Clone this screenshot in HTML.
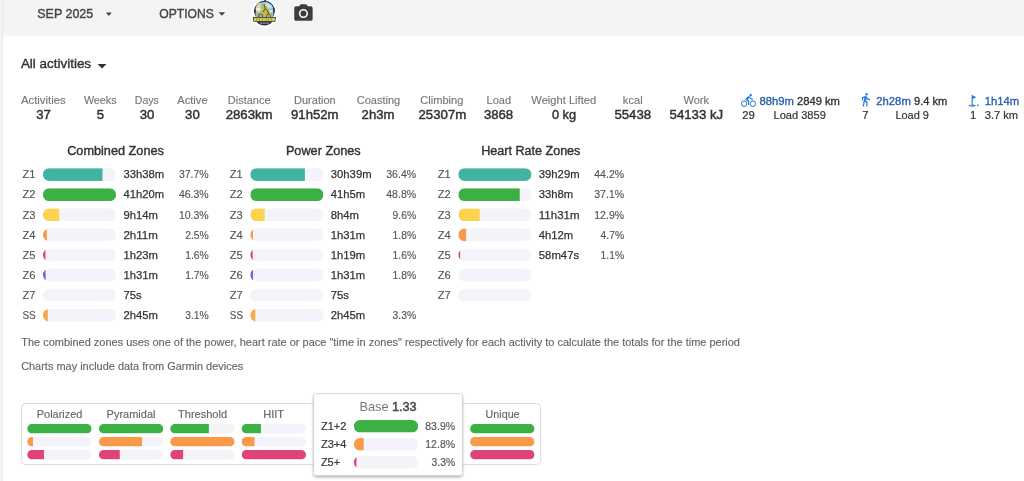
<!DOCTYPE html>
<html><head><meta charset="utf-8"><title>Activity totals</title>
<style>
html,body{margin:0;padding:0;background:#ffffff;}
body{width:1024px;height:481px;overflow:hidden;font-family:"Liberation Sans", sans-serif;}
svg{display:block;font-family:"Liberation Sans", sans-serif;will-change:transform;}
</style></head>
<body>
<svg width="1024" height="481" viewBox="0 0 1024 481">
<rect x="0.00" y="0.00" width="3.00" height="481.00" rx="0" fill="#f3f3fa" />
<rect x="2.00" y="0.00" width="1.00" height="481.00" rx="0" fill="#e9e9ef" />
<rect x="3.00" y="0.00" width="1021.00" height="35.50" rx="0" fill="#f4f4f4" />
<text x="65.25" y="18.30" font-size="13.05" fill="#454545" text-anchor="middle" textLength="55.95" lengthAdjust="spacingAndGlyphs" stroke="#454545" stroke-width="0.4">SEP 2025</text>
<polygon points="105.8,12.6 111.8,12.6 108.8,15.9" fill="#444"/>
<text x="186.55" y="18.20" font-size="13.05" fill="#454545" text-anchor="middle" textLength="54.58" lengthAdjust="spacingAndGlyphs" stroke="#454545" stroke-width="0.4">OPTIONS</text>
<polygon points="218.6,12.3 225.2,12.3 221.9,15.7" fill="#444"/>
<g>
<circle cx="264.8" cy="13.4" r="14.6" fill="#fbfbfb"/>
<circle cx="264.5" cy="11.1" r="10.3" fill="#1f2b47"/>
<circle cx="264.5" cy="11.1" r="9.3" fill="#8bc8e8"/>
<path d="M265 2.2 q5 0.6 7.6 5 l-3.5 1.8 l-3 -3z" fill="#bfe3f5"/>
<path d="M256.2 6 q1.5 -3 4 -3.4 l0.8 9 l-4.6 1z" fill="#e2d78c"/>
<ellipse cx="258" cy="9.2" rx="2.4" ry="1.1" fill="#eef4f6"/>
<ellipse cx="270.6" cy="11.4" rx="2.3" ry="1.1" fill="#eef4f6"/>
<path d="M255.6 13.2 q4 -1.5 9 -0.5 q5 -1 8.8 0.5 v4.2 h-17.8z" fill="#9bb89a"/>
<path d="M262.8 3.4 l2.2 -0.4 l1.4 3.8 l2.4 2 l1.6 4 l-1 4.2 l-2 -3 l-2.4 3 l-1.6 -3.6 l-2.6 2.2 l-0.4 -3.4 l2 -2.4 l-0.6 -3.6z" fill="#cbb641"/>
<path d="M264 4.6 l1.2 4 l-2.2 3.4 M265.2 8.6 l2.8 2.6 l0.2 3.6 M260.6 14 a2 2 0 1 0 0.1 0 M268.5 14.2 a2 2 0 1 0 0.1 0" stroke="#3a4134" stroke-width="0.8" fill="none"/>
<rect x="264.4" y="0" width="1.6" height="1.8" fill="#2b344c"/>
<rect x="254.3" y="9.2" width="1.4" height="3.6" fill="#1f2b47"/>
<rect x="273.2" y="7.8" width="1.4" height="4.4" fill="#1f2b47"/>
<path d="M252.9 17.1 h23 l-0.6 4.7 h-21.8z" fill="#26304a"/>
<path d="M253.7 17.8 h21.4 l-0.4 3.3 h-20.6z" fill="#dccb3c"/>
<path d="M256.9 18.2 v2.6 M259.6 18.2 v2.6 M262.3 18.2 v2.6 M266 18.2 v2.6 M268.6 18.2 v2.6 M271.3 18.2 v2.6" stroke="#6d6a34" stroke-width="0.6"/>
<path d="M256.7 21.6 h15.4 q-1.6 3.8 -7.7 3.8 q-6.1 0 -7.7 -3.8z" fill="#1f2b47"/>
<rect x="259.8" y="22.6" width="9.4" height="1" fill="#9aa3b6"/>
</g>
<g transform="translate(292.4,2.46) scale(0.92)" fill="#3d3d3d"><circle cx="12" cy="12" r="3.2"/><path d="M9 2L7.17 4H4c-1.1 0-2 .9-2 2v12c0 1.1.9 2 2 2h16c1.1 0 2-.9 2-2V6c0-1.1-.9-2-2-2h-3.17L15 2H9zm3 15c-2.76 0-5-2.24-5-5s2.24-5 5-5 5 2.24 5 5-2.24 5-5 5z"/></g>
<text x="56.00" y="67.70" font-size="13.7" fill="#333333" text-anchor="middle" textLength="70.20" lengthAdjust="spacingAndGlyphs" stroke="#333333" stroke-width="0.4">All activities</text>
<polygon points="97.6,64.1 106.5,64.1 102.05,68.6" fill="#333"/>
<text x="43.33" y="104.00" font-size="11.2" fill="#777777" text-anchor="middle" textLength="44.86" lengthAdjust="spacingAndGlyphs" stroke="#777777" stroke-width="0.15">Activities</text>
<text x="43.50" y="119.25" font-size="13.05" fill="#333333" text-anchor="middle" textLength="14.66" lengthAdjust="spacingAndGlyphs" stroke="#333333" stroke-width="0.45">37</text>
<text x="100.25" y="104.00" font-size="11.2" fill="#777777" text-anchor="middle" textLength="32.70" lengthAdjust="spacingAndGlyphs" stroke="#777777" stroke-width="0.15">Weeks</text>
<text x="100.45" y="119.25" font-size="13.05" fill="#333333" text-anchor="middle" textLength="7.33" lengthAdjust="spacingAndGlyphs" stroke="#333333" stroke-width="0.45">5</text>
<text x="146.80" y="104.00" font-size="11.2" fill="#777777" text-anchor="middle" textLength="24.12" lengthAdjust="spacingAndGlyphs" stroke="#777777" stroke-width="0.15">Days</text>
<text x="147.00" y="119.25" font-size="13.05" fill="#333333" text-anchor="middle" textLength="14.66" lengthAdjust="spacingAndGlyphs" stroke="#333333" stroke-width="0.45">30</text>
<text x="192.45" y="104.00" font-size="11.2" fill="#777777" text-anchor="middle" textLength="30.34" lengthAdjust="spacingAndGlyphs" stroke="#777777" stroke-width="0.15">Active</text>
<text x="192.45" y="119.25" font-size="13.05" fill="#333333" text-anchor="middle" textLength="14.66" lengthAdjust="spacingAndGlyphs" stroke="#333333" stroke-width="0.45">30</text>
<text x="249.15" y="104.00" font-size="11.2" fill="#777777" text-anchor="middle" textLength="42.71" lengthAdjust="spacingAndGlyphs" stroke="#777777" stroke-width="0.15">Distance</text>
<text x="249.15" y="119.25" font-size="13.05" fill="#333333" text-anchor="middle" textLength="46.94" lengthAdjust="spacingAndGlyphs" stroke="#333333" stroke-width="0.45">2863km</text>
<text x="314.85" y="104.00" font-size="11.2" fill="#777777" text-anchor="middle" textLength="41.54" lengthAdjust="spacingAndGlyphs" stroke="#777777" stroke-width="0.15">Duration</text>
<text x="314.80" y="119.25" font-size="13.05" fill="#333333" text-anchor="middle" textLength="47.50" lengthAdjust="spacingAndGlyphs" stroke="#333333" stroke-width="0.45">91h52m</text>
<text x="378.50" y="104.00" font-size="11.2" fill="#777777" text-anchor="middle" textLength="43.51" lengthAdjust="spacingAndGlyphs" stroke="#777777" stroke-width="0.15">Coasting</text>
<text x="378.00" y="119.25" font-size="13.05" fill="#333333" text-anchor="middle" textLength="32.84" lengthAdjust="spacingAndGlyphs" stroke="#333333" stroke-width="0.45">2h3m</text>
<text x="441.85" y="104.00" font-size="11.2" fill="#777777" text-anchor="middle" textLength="43.14" lengthAdjust="spacingAndGlyphs" stroke="#777777" stroke-width="0.15">Climbing</text>
<text x="442.40" y="119.25" font-size="13.05" fill="#333333" text-anchor="middle" textLength="47.80" lengthAdjust="spacingAndGlyphs" stroke="#333333" stroke-width="0.45">25307m</text>
<text x="498.80" y="104.00" font-size="11.2" fill="#777777" text-anchor="middle" textLength="24.38" lengthAdjust="spacingAndGlyphs" stroke="#777777" stroke-width="0.15">Load</text>
<text x="498.55" y="119.25" font-size="13.05" fill="#333333" text-anchor="middle" textLength="29.31" lengthAdjust="spacingAndGlyphs" stroke="#333333" stroke-width="0.45">3868</text>
<text x="563.75" y="104.00" font-size="11.2" fill="#777777" text-anchor="middle" textLength="64.87" lengthAdjust="spacingAndGlyphs" stroke="#777777" stroke-width="0.15">Weight Lifted</text>
<text x="564.00" y="119.25" font-size="13.05" fill="#333333" text-anchor="middle" textLength="24.16" lengthAdjust="spacingAndGlyphs" stroke="#333333" stroke-width="0.45">0 kg</text>
<text x="632.80" y="104.00" font-size="11.2" fill="#777777" text-anchor="middle" textLength="19.88" lengthAdjust="spacingAndGlyphs" stroke="#777777" stroke-width="0.15">kcal</text>
<text x="632.80" y="119.25" font-size="13.05" fill="#333333" text-anchor="middle" textLength="36.64" lengthAdjust="spacingAndGlyphs" stroke="#333333" stroke-width="0.45">55438</text>
<text x="696.20" y="104.00" font-size="11.2" fill="#777777" text-anchor="middle" textLength="25.43" lengthAdjust="spacingAndGlyphs" stroke="#777777" stroke-width="0.15">Work</text>
<text x="696.35" y="119.25" font-size="13.05" fill="#333333" text-anchor="middle" textLength="53.54" lengthAdjust="spacingAndGlyphs" stroke="#333333" stroke-width="0.45">54133 kJ</text>
<g transform="translate(741,93.06) scale(0.625)" fill="#2a7fe0"><path d="M15.5 5.5c1.1 0 2-.9 2-2s-.9-2-2-2-2 .9-2 2 .9 2 2 2zM5 12c-2.8 0-5 2.2-5 5s2.2 5 5 5 5-2.2 5-5-2.2-5-5-5zm0 8.5c-1.9 0-3.5-1.6-3.5-3.5s1.6-3.5 3.5-3.5 3.5 1.6 3.5 3.5-1.6 3.5-3.5 3.5zm5.8-10l2.4-2.4.8.8c1.3 1.3 3 2.1 5.1 2.1V9c-1.5 0-2.7-.6-3.6-1.5l-1.9-1.9c-.5-.4-1-.6-1.6-.6s-1.1.2-1.4.6L7.8 8.4c-.4.4-.6.9-.6 1.4 0 .6.2 1.1.6 1.4L11 14v5h2v-6.2l-2.2-2.3zM19 12c-2.8 0-5 2.2-5 5s2.2 5 5 5 5-2.2 5-5-2.2-5-5-5zm0 8.5c-1.9 0-3.5-1.6-3.5-3.5s1.6-3.5 3.5-3.5 3.5 1.6 3.5 3.5-1.6 3.5-3.5 3.5z"/></g>
<text x="776.65" y="104.90" font-size="11.2" fill="#2d62aa" text-anchor="middle" textLength="34.47" lengthAdjust="spacingAndGlyphs" stroke="#2d62aa" stroke-width="0.35">88h9m</text>
<text x="818.45" y="104.90" font-size="11.2" fill="#2e2e2e" text-anchor="middle" textLength="43.06" lengthAdjust="spacingAndGlyphs" stroke="#2e2e2e" stroke-width="0.3">2849 km</text>
<text x="748.50" y="119.30" font-size="11.2" fill="#333333" text-anchor="middle" textLength="12.58" lengthAdjust="spacingAndGlyphs" stroke="#333333" stroke-width="0.2">29</text>
<text x="799.65" y="119.30" font-size="11.2" fill="#333333" text-anchor="middle" textLength="52.31" lengthAdjust="spacingAndGlyphs" stroke="#333333" stroke-width="0.2">Load 3859</text>
<g transform="translate(858.15,92.16) scale(0.625)" fill="#2a7fe0"><path d="M13.5 5.5c1.1 0 2-.9 2-2s-.9-2-2-2-2 .9-2 2 .9 2 2 2zM9.8 8.9L7 23h2.1l1.8-8 2.1 2v6h2v-7.5l-2.1-2 .6-3C14.8 12 16.8 13 19 13v-2c-1.9 0-3.5-1-4.3-2.4l-1-1.6c-.4-.6-1-1-1.7-1-.3 0-.5.1-.8.1L6 8.3V13h2V9.6l1.8-.7"/></g>
<text x="893.55" y="104.90" font-size="11.2" fill="#2d62aa" text-anchor="middle" textLength="34.47" lengthAdjust="spacingAndGlyphs" stroke="#2d62aa" stroke-width="0.35">2h28m</text>
<text x="930.70" y="104.90" font-size="11.2" fill="#2e2e2e" text-anchor="middle" textLength="33.42" lengthAdjust="spacingAndGlyphs" stroke="#2e2e2e" stroke-width="0.3">9.4 km</text>
<text x="865.45" y="119.30" font-size="11.2" fill="#333333" text-anchor="middle" textLength="6.29" lengthAdjust="spacingAndGlyphs" stroke="#333333" stroke-width="0.2">7</text>
<text x="912.15" y="119.30" font-size="11.2" fill="#333333" text-anchor="middle" textLength="33.44" lengthAdjust="spacingAndGlyphs" stroke="#333333" stroke-width="0.2">Load 9</text>
<g transform="translate(966.2,93.6) scale(0.6)" fill="#2a7fe0"><circle cx="19.5" cy="19.5" r="1.5"/><path d="M17 5.92L9 2v18H7v-1.73c-1.79.35-3 .99-3 1.73 0 1.1 2.69 2 6 2s6-.9 6-2c0-.99-2.16-1.81-5-1.97V8.98l6-3.06z"/></g>
<text x="1001.90" y="104.90" font-size="11.2" fill="#2d62aa" text-anchor="middle" textLength="34.47" lengthAdjust="spacingAndGlyphs" stroke="#2d62aa" stroke-width="0.35">1h14m</text>
<text x="973.15" y="119.30" font-size="11.2" fill="#333333" text-anchor="middle" textLength="6.29" lengthAdjust="spacingAndGlyphs" stroke="#333333" stroke-width="0.2">1</text>
<text x="1001.45" y="119.30" font-size="11.2" fill="#333333" text-anchor="middle" textLength="33.42" lengthAdjust="spacingAndGlyphs" stroke="#333333" stroke-width="0.2">3.7 km</text>
<text x="115.55" y="155.00" font-size="13.05" fill="#333333" text-anchor="middle" textLength="96.77" lengthAdjust="spacingAndGlyphs" stroke="#333333" stroke-width="0.4">Combined Zones</text>
<text x="22.40" y="178.30" font-size="11.2" fill="#555555" textLength="12.99" lengthAdjust="spacingAndGlyphs" stroke="#555555" stroke-width="0.15">Z1</text>
<clipPath id="c1"><rect x="42.90" y="168.20" width="73.20" height="12.70" rx="6.35"/></clipPath>
<rect x="42.90" y="168.20" width="73.20" height="12.70" rx="6.35" fill="#f3f3f9"/>
<rect clip-path="url(#c1)" x="42.90" y="168.20" width="59.60" height="12.70" fill="#40b3a1"/>
<text x="123.40" y="178.30" font-size="11.2" fill="#333333" textLength="40.76" lengthAdjust="spacingAndGlyphs" stroke="#333333" stroke-width="0.25">33h38m</text>
<text x="208.70" y="178.30" font-size="11.2" fill="#555555" text-anchor="end" textLength="29.82" lengthAdjust="spacingAndGlyphs" stroke="#555555" stroke-width="0.15">37.7%</text>
<text x="22.40" y="198.41" font-size="11.2" fill="#555555" textLength="12.99" lengthAdjust="spacingAndGlyphs" stroke="#555555" stroke-width="0.15">Z2</text>
<clipPath id="c2"><rect x="42.90" y="188.31" width="73.20" height="12.70" rx="6.35"/></clipPath>
<rect x="42.90" y="188.31" width="73.20" height="12.70" rx="6.35" fill="#f3f3f9"/>
<rect clip-path="url(#c2)" x="42.90" y="188.31" width="73.20" height="12.70" fill="#3cb043"/>
<text x="123.40" y="198.41" font-size="11.2" fill="#333333" textLength="40.76" lengthAdjust="spacingAndGlyphs" stroke="#333333" stroke-width="0.25">41h20m</text>
<text x="208.70" y="198.41" font-size="11.2" fill="#555555" text-anchor="end" textLength="29.82" lengthAdjust="spacingAndGlyphs" stroke="#555555" stroke-width="0.15">46.3%</text>
<text x="22.40" y="218.52" font-size="11.2" fill="#555555" textLength="12.99" lengthAdjust="spacingAndGlyphs" stroke="#555555" stroke-width="0.15">Z3</text>
<clipPath id="c3"><rect x="42.90" y="208.42" width="73.20" height="12.70" rx="6.35"/></clipPath>
<rect x="42.90" y="208.42" width="73.20" height="12.70" rx="6.35" fill="#f3f3f9"/>
<rect clip-path="url(#c3)" x="42.90" y="208.42" width="16.28" height="12.70" fill="#fdd34d"/>
<text x="123.40" y="218.52" font-size="11.2" fill="#333333" textLength="34.47" lengthAdjust="spacingAndGlyphs" stroke="#333333" stroke-width="0.25">9h14m</text>
<text x="208.70" y="218.52" font-size="11.2" fill="#555555" text-anchor="end" textLength="29.82" lengthAdjust="spacingAndGlyphs" stroke="#555555" stroke-width="0.15">10.3%</text>
<text x="22.40" y="238.63" font-size="11.2" fill="#555555" textLength="12.99" lengthAdjust="spacingAndGlyphs" stroke="#555555" stroke-width="0.15">Z4</text>
<clipPath id="c4"><rect x="42.90" y="228.53" width="73.20" height="12.70" rx="6.35"/></clipPath>
<rect x="42.90" y="228.53" width="73.20" height="12.70" rx="6.35" fill="#f3f3f9"/>
<rect clip-path="url(#c4)" x="42.90" y="228.53" width="3.95" height="12.70" fill="#fa9a48"/>
<text x="123.40" y="238.63" font-size="11.2" fill="#333333" textLength="34.47" lengthAdjust="spacingAndGlyphs" stroke="#333333" stroke-width="0.25">2h11m</text>
<text x="208.70" y="238.63" font-size="11.2" fill="#555555" text-anchor="end" textLength="23.53" lengthAdjust="spacingAndGlyphs" stroke="#555555" stroke-width="0.15">2.5%</text>
<text x="22.40" y="258.74" font-size="11.2" fill="#555555" textLength="12.99" lengthAdjust="spacingAndGlyphs" stroke="#555555" stroke-width="0.15">Z5</text>
<clipPath id="c5"><rect x="42.90" y="248.64" width="73.20" height="12.70" rx="6.35"/></clipPath>
<rect x="42.90" y="248.64" width="73.20" height="12.70" rx="6.35" fill="#f3f3f9"/>
<rect clip-path="url(#c5)" x="42.90" y="248.64" width="2.53" height="12.70" fill="#e04377"/>
<text x="123.40" y="258.74" font-size="11.2" fill="#333333" textLength="34.47" lengthAdjust="spacingAndGlyphs" stroke="#333333" stroke-width="0.25">1h23m</text>
<text x="208.70" y="258.74" font-size="11.2" fill="#555555" text-anchor="end" textLength="23.53" lengthAdjust="spacingAndGlyphs" stroke="#555555" stroke-width="0.15">1.6%</text>
<text x="22.40" y="278.85" font-size="11.2" fill="#555555" textLength="12.99" lengthAdjust="spacingAndGlyphs" stroke="#555555" stroke-width="0.15">Z6</text>
<clipPath id="c6"><rect x="42.90" y="268.75" width="73.20" height="12.70" rx="6.35"/></clipPath>
<rect x="42.90" y="268.75" width="73.20" height="12.70" rx="6.35" fill="#f3f3f9"/>
<rect clip-path="url(#c6)" x="42.90" y="268.75" width="2.69" height="12.70" fill="#7b5ce0"/>
<text x="123.40" y="278.85" font-size="11.2" fill="#333333" textLength="34.47" lengthAdjust="spacingAndGlyphs" stroke="#333333" stroke-width="0.25">1h31m</text>
<text x="208.70" y="278.85" font-size="11.2" fill="#555555" text-anchor="end" textLength="23.53" lengthAdjust="spacingAndGlyphs" stroke="#555555" stroke-width="0.15">1.7%</text>
<text x="22.40" y="298.96" font-size="11.2" fill="#555555" textLength="12.99" lengthAdjust="spacingAndGlyphs" stroke="#555555" stroke-width="0.15">Z7</text>
<clipPath id="c7"><rect x="42.90" y="288.86" width="73.20" height="12.70" rx="6.35"/></clipPath>
<rect x="42.90" y="288.86" width="73.20" height="12.70" rx="6.35" fill="#f3f3f9"/>
<text x="123.40" y="298.96" font-size="11.2" fill="#333333" textLength="18.22" lengthAdjust="spacingAndGlyphs" stroke="#333333" stroke-width="0.25">75s</text>
<text x="22.40" y="319.07" font-size="11.2" fill="#555555" textLength="13.30" lengthAdjust="spacingAndGlyphs" stroke="#555555" stroke-width="0.15">SS</text>
<clipPath id="c8"><rect x="42.90" y="308.97" width="73.20" height="12.70" rx="6.35"/></clipPath>
<rect x="42.90" y="308.97" width="73.20" height="12.70" rx="6.35" fill="#f3f3f9"/>
<rect clip-path="url(#c8)" x="42.90" y="308.97" width="4.90" height="12.70" fill="#f8a94a"/>
<text x="123.40" y="319.07" font-size="11.2" fill="#333333" textLength="34.47" lengthAdjust="spacingAndGlyphs" stroke="#333333" stroke-width="0.25">2h45m</text>
<text x="208.70" y="319.07" font-size="11.2" fill="#555555" text-anchor="end" textLength="23.53" lengthAdjust="spacingAndGlyphs" stroke="#555555" stroke-width="0.15">3.1%</text>
<text x="323.30" y="155.00" font-size="13.05" fill="#333333" text-anchor="middle" textLength="74.79" lengthAdjust="spacingAndGlyphs" stroke="#333333" stroke-width="0.4">Power Zones</text>
<text x="229.80" y="178.30" font-size="11.2" fill="#555555" textLength="12.99" lengthAdjust="spacingAndGlyphs" stroke="#555555" stroke-width="0.15">Z1</text>
<clipPath id="c9"><rect x="250.30" y="168.20" width="73.20" height="12.70" rx="6.35"/></clipPath>
<rect x="250.30" y="168.20" width="73.20" height="12.70" rx="6.35" fill="#f3f3f9"/>
<rect clip-path="url(#c9)" x="250.30" y="168.20" width="54.60" height="12.70" fill="#40b3a1"/>
<text x="330.80" y="178.30" font-size="11.2" fill="#333333" textLength="40.76" lengthAdjust="spacingAndGlyphs" stroke="#333333" stroke-width="0.25">30h39m</text>
<text x="416.10" y="178.30" font-size="11.2" fill="#555555" text-anchor="end" textLength="29.82" lengthAdjust="spacingAndGlyphs" stroke="#555555" stroke-width="0.15">36.4%</text>
<text x="229.80" y="198.41" font-size="11.2" fill="#555555" textLength="12.99" lengthAdjust="spacingAndGlyphs" stroke="#555555" stroke-width="0.15">Z2</text>
<clipPath id="c10"><rect x="250.30" y="188.31" width="73.20" height="12.70" rx="6.35"/></clipPath>
<rect x="250.30" y="188.31" width="73.20" height="12.70" rx="6.35" fill="#f3f3f9"/>
<rect clip-path="url(#c10)" x="250.30" y="188.31" width="73.20" height="12.70" fill="#3cb043"/>
<text x="330.80" y="198.41" font-size="11.2" fill="#333333" textLength="34.47" lengthAdjust="spacingAndGlyphs" stroke="#333333" stroke-width="0.25">41h5m</text>
<text x="416.10" y="198.41" font-size="11.2" fill="#555555" text-anchor="end" textLength="29.82" lengthAdjust="spacingAndGlyphs" stroke="#555555" stroke-width="0.15">48.8%</text>
<text x="229.80" y="218.52" font-size="11.2" fill="#555555" textLength="12.99" lengthAdjust="spacingAndGlyphs" stroke="#555555" stroke-width="0.15">Z3</text>
<clipPath id="c11"><rect x="250.30" y="208.42" width="73.20" height="12.70" rx="6.35"/></clipPath>
<rect x="250.30" y="208.42" width="73.20" height="12.70" rx="6.35" fill="#f3f3f9"/>
<rect clip-path="url(#c11)" x="250.30" y="208.42" width="14.40" height="12.70" fill="#fdd34d"/>
<text x="330.80" y="218.52" font-size="11.2" fill="#333333" textLength="28.19" lengthAdjust="spacingAndGlyphs" stroke="#333333" stroke-width="0.25">8h4m</text>
<text x="416.10" y="218.52" font-size="11.2" fill="#555555" text-anchor="end" textLength="23.53" lengthAdjust="spacingAndGlyphs" stroke="#555555" stroke-width="0.15">9.6%</text>
<text x="229.80" y="238.63" font-size="11.2" fill="#555555" textLength="12.99" lengthAdjust="spacingAndGlyphs" stroke="#555555" stroke-width="0.15">Z4</text>
<clipPath id="c12"><rect x="250.30" y="228.53" width="73.20" height="12.70" rx="6.35"/></clipPath>
<rect x="250.30" y="228.53" width="73.20" height="12.70" rx="6.35" fill="#f3f3f9"/>
<rect clip-path="url(#c12)" x="250.30" y="228.53" width="2.70" height="12.70" fill="#fa9a48"/>
<text x="330.80" y="238.63" font-size="11.2" fill="#333333" textLength="34.47" lengthAdjust="spacingAndGlyphs" stroke="#333333" stroke-width="0.25">1h31m</text>
<text x="416.10" y="238.63" font-size="11.2" fill="#555555" text-anchor="end" textLength="23.53" lengthAdjust="spacingAndGlyphs" stroke="#555555" stroke-width="0.15">1.8%</text>
<text x="229.80" y="258.74" font-size="11.2" fill="#555555" textLength="12.99" lengthAdjust="spacingAndGlyphs" stroke="#555555" stroke-width="0.15">Z5</text>
<clipPath id="c13"><rect x="250.30" y="248.64" width="73.20" height="12.70" rx="6.35"/></clipPath>
<rect x="250.30" y="248.64" width="73.20" height="12.70" rx="6.35" fill="#f3f3f9"/>
<rect clip-path="url(#c13)" x="250.30" y="248.64" width="2.40" height="12.70" fill="#e04377"/>
<text x="330.80" y="258.74" font-size="11.2" fill="#333333" textLength="34.47" lengthAdjust="spacingAndGlyphs" stroke="#333333" stroke-width="0.25">1h19m</text>
<text x="416.10" y="258.74" font-size="11.2" fill="#555555" text-anchor="end" textLength="23.53" lengthAdjust="spacingAndGlyphs" stroke="#555555" stroke-width="0.15">1.6%</text>
<text x="229.80" y="278.85" font-size="11.2" fill="#555555" textLength="12.99" lengthAdjust="spacingAndGlyphs" stroke="#555555" stroke-width="0.15">Z6</text>
<clipPath id="c14"><rect x="250.30" y="268.75" width="73.20" height="12.70" rx="6.35"/></clipPath>
<rect x="250.30" y="268.75" width="73.20" height="12.70" rx="6.35" fill="#f3f3f9"/>
<rect clip-path="url(#c14)" x="250.30" y="268.75" width="2.70" height="12.70" fill="#7b5ce0"/>
<text x="330.80" y="278.85" font-size="11.2" fill="#333333" textLength="34.47" lengthAdjust="spacingAndGlyphs" stroke="#333333" stroke-width="0.25">1h31m</text>
<text x="416.10" y="278.85" font-size="11.2" fill="#555555" text-anchor="end" textLength="23.53" lengthAdjust="spacingAndGlyphs" stroke="#555555" stroke-width="0.15">1.8%</text>
<text x="229.80" y="298.96" font-size="11.2" fill="#555555" textLength="12.99" lengthAdjust="spacingAndGlyphs" stroke="#555555" stroke-width="0.15">Z7</text>
<clipPath id="c15"><rect x="250.30" y="288.86" width="73.20" height="12.70" rx="6.35"/></clipPath>
<rect x="250.30" y="288.86" width="73.20" height="12.70" rx="6.35" fill="#f3f3f9"/>
<text x="330.80" y="298.96" font-size="11.2" fill="#333333" textLength="18.22" lengthAdjust="spacingAndGlyphs" stroke="#333333" stroke-width="0.25">75s</text>
<text x="229.80" y="319.07" font-size="11.2" fill="#555555" textLength="13.30" lengthAdjust="spacingAndGlyphs" stroke="#555555" stroke-width="0.15">SS</text>
<clipPath id="c16"><rect x="250.30" y="308.97" width="73.20" height="12.70" rx="6.35"/></clipPath>
<rect x="250.30" y="308.97" width="73.20" height="12.70" rx="6.35" fill="#f3f3f9"/>
<rect clip-path="url(#c16)" x="250.30" y="308.97" width="4.95" height="12.70" fill="#f8a94a"/>
<text x="330.80" y="319.07" font-size="11.2" fill="#333333" textLength="34.47" lengthAdjust="spacingAndGlyphs" stroke="#333333" stroke-width="0.25">2h45m</text>
<text x="416.10" y="319.07" font-size="11.2" fill="#555555" text-anchor="end" textLength="23.53" lengthAdjust="spacingAndGlyphs" stroke="#555555" stroke-width="0.15">3.3%</text>
<text x="530.80" y="155.00" font-size="13.05" fill="#333333" text-anchor="middle" textLength="99.24" lengthAdjust="spacingAndGlyphs" stroke="#333333" stroke-width="0.4">Heart Rate Zones</text>
<text x="437.80" y="178.30" font-size="11.2" fill="#555555" textLength="12.99" lengthAdjust="spacingAndGlyphs" stroke="#555555" stroke-width="0.15">Z1</text>
<clipPath id="c17"><rect x="458.30" y="168.20" width="73.20" height="12.70" rx="6.35"/></clipPath>
<rect x="458.30" y="168.20" width="73.20" height="12.70" rx="6.35" fill="#f3f3f9"/>
<rect clip-path="url(#c17)" x="458.30" y="168.20" width="73.20" height="12.70" fill="#40b3a1"/>
<text x="538.80" y="178.30" font-size="11.2" fill="#333333" textLength="40.76" lengthAdjust="spacingAndGlyphs" stroke="#333333" stroke-width="0.25">39h29m</text>
<text x="624.10" y="178.30" font-size="11.2" fill="#555555" text-anchor="end" textLength="29.82" lengthAdjust="spacingAndGlyphs" stroke="#555555" stroke-width="0.15">44.2%</text>
<text x="437.80" y="198.41" font-size="11.2" fill="#555555" textLength="12.99" lengthAdjust="spacingAndGlyphs" stroke="#555555" stroke-width="0.15">Z2</text>
<clipPath id="c18"><rect x="458.30" y="188.31" width="73.20" height="12.70" rx="6.35"/></clipPath>
<rect x="458.30" y="188.31" width="73.20" height="12.70" rx="6.35" fill="#f3f3f9"/>
<rect clip-path="url(#c18)" x="458.30" y="188.31" width="61.44" height="12.70" fill="#3cb043"/>
<text x="538.80" y="198.41" font-size="11.2" fill="#333333" textLength="34.47" lengthAdjust="spacingAndGlyphs" stroke="#333333" stroke-width="0.25">33h8m</text>
<text x="624.10" y="198.41" font-size="11.2" fill="#555555" text-anchor="end" textLength="29.82" lengthAdjust="spacingAndGlyphs" stroke="#555555" stroke-width="0.15">37.1%</text>
<text x="437.80" y="218.52" font-size="11.2" fill="#555555" textLength="12.99" lengthAdjust="spacingAndGlyphs" stroke="#555555" stroke-width="0.15">Z3</text>
<clipPath id="c19"><rect x="458.30" y="208.42" width="73.20" height="12.70" rx="6.35"/></clipPath>
<rect x="458.30" y="208.42" width="73.20" height="12.70" rx="6.35" fill="#f3f3f9"/>
<rect clip-path="url(#c19)" x="458.30" y="208.42" width="21.36" height="12.70" fill="#fdd34d"/>
<text x="538.80" y="218.52" font-size="11.2" fill="#333333" textLength="40.76" lengthAdjust="spacingAndGlyphs" stroke="#333333" stroke-width="0.25">11h31m</text>
<text x="624.10" y="218.52" font-size="11.2" fill="#555555" text-anchor="end" textLength="29.82" lengthAdjust="spacingAndGlyphs" stroke="#555555" stroke-width="0.15">12.9%</text>
<text x="437.80" y="238.63" font-size="11.2" fill="#555555" textLength="12.99" lengthAdjust="spacingAndGlyphs" stroke="#555555" stroke-width="0.15">Z4</text>
<clipPath id="c20"><rect x="458.30" y="228.53" width="73.20" height="12.70" rx="6.35"/></clipPath>
<rect x="458.30" y="228.53" width="73.20" height="12.70" rx="6.35" fill="#f3f3f9"/>
<rect clip-path="url(#c20)" x="458.30" y="228.53" width="7.78" height="12.70" fill="#fa9a48"/>
<text x="538.80" y="238.63" font-size="11.2" fill="#333333" textLength="34.47" lengthAdjust="spacingAndGlyphs" stroke="#333333" stroke-width="0.25">4h12m</text>
<text x="624.10" y="238.63" font-size="11.2" fill="#555555" text-anchor="end" textLength="23.53" lengthAdjust="spacingAndGlyphs" stroke="#555555" stroke-width="0.15">4.7%</text>
<text x="437.80" y="258.74" font-size="11.2" fill="#555555" textLength="12.99" lengthAdjust="spacingAndGlyphs" stroke="#555555" stroke-width="0.15">Z5</text>
<clipPath id="c21"><rect x="458.30" y="248.64" width="73.20" height="12.70" rx="6.35"/></clipPath>
<rect x="458.30" y="248.64" width="73.20" height="12.70" rx="6.35" fill="#f3f3f9"/>
<rect clip-path="url(#c21)" x="458.30" y="248.64" width="1.82" height="12.70" fill="#e04377"/>
<text x="538.80" y="258.74" font-size="11.2" fill="#333333" textLength="40.38" lengthAdjust="spacingAndGlyphs" stroke="#333333" stroke-width="0.25">58m47s</text>
<text x="624.10" y="258.74" font-size="11.2" fill="#555555" text-anchor="end" textLength="23.53" lengthAdjust="spacingAndGlyphs" stroke="#555555" stroke-width="0.15">1.1%</text>
<text x="437.80" y="278.85" font-size="11.2" fill="#555555" textLength="12.99" lengthAdjust="spacingAndGlyphs" stroke="#555555" stroke-width="0.15">Z6</text>
<clipPath id="c22"><rect x="458.30" y="268.75" width="73.20" height="12.70" rx="6.35"/></clipPath>
<rect x="458.30" y="268.75" width="73.20" height="12.70" rx="6.35" fill="#f3f3f9"/>
<text x="437.80" y="298.96" font-size="11.2" fill="#555555" textLength="12.99" lengthAdjust="spacingAndGlyphs" stroke="#555555" stroke-width="0.15">Z7</text>
<clipPath id="c23"><rect x="458.30" y="288.86" width="73.20" height="12.70" rx="6.35"/></clipPath>
<rect x="458.30" y="288.86" width="73.20" height="12.70" rx="6.35" fill="#f3f3f9"/>
<text x="380.60" y="346.30" font-size="11.2" fill="#666666" text-anchor="middle" textLength="718.76" lengthAdjust="spacingAndGlyphs" stroke="#666666" stroke-width="0.15">The combined zones uses one of the power, heart rate or pace &quot;time in zones&quot; respectively for each activity to calculate the totals for the time period</text>
<text x="132.20" y="370.00" font-size="11.2" fill="#666666" text-anchor="middle" textLength="222.13" lengthAdjust="spacingAndGlyphs" stroke="#666666" stroke-width="0.15">Charts may include data from Garmin devices</text>
<rect x="21.5" y="403.5" width="519" height="61" rx="4" fill="#ffffff" stroke="#dcdcdc" stroke-width="1"/>
<text x="59.60" y="417.70" font-size="11.2" fill="#666666" text-anchor="middle" textLength="45.65" lengthAdjust="spacingAndGlyphs" stroke="#666666" stroke-width="0.15">Polarized</text>
<clipPath id="c24"><rect x="27.20" y="424.00" width="64.40" height="9.40" rx="4.70"/></clipPath>
<rect x="27.20" y="424.00" width="64.40" height="9.40" rx="4.70" fill="#f3f3f9"/>
<rect clip-path="url(#c24)" x="27.20" y="424.00" width="64.40" height="9.40" fill="#3cb043"/>
<clipPath id="c25"><rect x="27.20" y="437.00" width="64.40" height="9.40" rx="4.70"/></clipPath>
<rect x="27.20" y="437.00" width="64.40" height="9.40" rx="4.70" fill="#f3f3f9"/>
<rect clip-path="url(#c25)" x="27.20" y="437.00" width="5.80" height="9.40" fill="#fa9a48"/>
<clipPath id="c26"><rect x="27.20" y="450.00" width="64.40" height="9.40" rx="4.70"/></clipPath>
<rect x="27.20" y="450.00" width="64.40" height="9.40" rx="4.70" fill="#f3f3f9"/>
<rect clip-path="url(#c26)" x="27.20" y="450.00" width="16.74" height="9.40" fill="#e04377"/>
<text x="131.05" y="417.70" font-size="11.2" fill="#666666" text-anchor="middle" textLength="48.92" lengthAdjust="spacingAndGlyphs" stroke="#666666" stroke-width="0.15">Pyramidal</text>
<clipPath id="c27"><rect x="98.90" y="424.00" width="64.40" height="9.40" rx="4.70"/></clipPath>
<rect x="98.90" y="424.00" width="64.40" height="9.40" rx="4.70" fill="#f3f3f9"/>
<rect clip-path="url(#c27)" x="98.90" y="424.00" width="64.40" height="9.40" fill="#3cb043"/>
<clipPath id="c28"><rect x="98.90" y="437.00" width="64.40" height="9.40" rx="4.70"/></clipPath>
<rect x="98.90" y="437.00" width="64.40" height="9.40" rx="4.70" fill="#f3f3f9"/>
<rect clip-path="url(#c28)" x="98.90" y="437.00" width="43.15" height="9.40" fill="#fa9a48"/>
<clipPath id="c29"><rect x="98.90" y="450.00" width="64.40" height="9.40" rx="4.70"/></clipPath>
<rect x="98.90" y="450.00" width="64.40" height="9.40" rx="4.70" fill="#f3f3f9"/>
<rect clip-path="url(#c29)" x="98.90" y="450.00" width="20.87" height="9.40" fill="#e04377"/>
<text x="202.57" y="417.70" font-size="11.2" fill="#666666" text-anchor="middle" textLength="48.92" lengthAdjust="spacingAndGlyphs" stroke="#666666" stroke-width="0.15">Threshold</text>
<clipPath id="c30"><rect x="170.20" y="424.00" width="64.40" height="9.40" rx="4.70"/></clipPath>
<rect x="170.20" y="424.00" width="64.40" height="9.40" rx="4.70" fill="#f3f3f9"/>
<rect clip-path="url(#c30)" x="170.20" y="424.00" width="38.64" height="9.40" fill="#3cb043"/>
<clipPath id="c31"><rect x="170.20" y="437.00" width="64.40" height="9.40" rx="4.70"/></clipPath>
<rect x="170.20" y="437.00" width="64.40" height="9.40" rx="4.70" fill="#f3f3f9"/>
<rect clip-path="url(#c31)" x="170.20" y="437.00" width="64.40" height="9.40" fill="#fa9a48"/>
<clipPath id="c32"><rect x="170.20" y="450.00" width="64.40" height="9.40" rx="4.70"/></clipPath>
<rect x="170.20" y="450.00" width="64.40" height="9.40" rx="4.70" fill="#f3f3f9"/>
<rect clip-path="url(#c32)" x="170.20" y="450.00" width="12.88" height="9.40" fill="#e04377"/>
<text x="273.65" y="417.70" font-size="11.2" fill="#666666" text-anchor="middle" textLength="20.76" lengthAdjust="spacingAndGlyphs" stroke="#666666" stroke-width="0.15">HIIT</text>
<clipPath id="c33"><rect x="241.60" y="424.00" width="64.40" height="9.40" rx="4.70"/></clipPath>
<rect x="241.60" y="424.00" width="64.40" height="9.40" rx="4.70" fill="#f3f3f9"/>
<rect clip-path="url(#c33)" x="241.60" y="424.00" width="19.32" height="9.40" fill="#3cb043"/>
<clipPath id="c34"><rect x="241.60" y="437.00" width="64.40" height="9.40" rx="4.70"/></clipPath>
<rect x="241.60" y="437.00" width="64.40" height="9.40" rx="4.70" fill="#f3f3f9"/>
<rect clip-path="url(#c34)" x="241.60" y="437.00" width="12.88" height="9.40" fill="#fa9a48"/>
<clipPath id="c35"><rect x="241.60" y="450.00" width="64.40" height="9.40" rx="4.70"/></clipPath>
<rect x="241.60" y="450.00" width="64.40" height="9.40" rx="4.70" fill="#f3f3f9"/>
<rect clip-path="url(#c35)" x="241.60" y="450.00" width="64.40" height="9.40" fill="#e04377"/>
<text x="502.60" y="417.70" font-size="11.2" fill="#666666" text-anchor="middle" textLength="33.99" lengthAdjust="spacingAndGlyphs" stroke="#666666" stroke-width="0.15">Unique</text>
<clipPath id="c36"><rect x="470.10" y="424.00" width="64.40" height="9.40" rx="4.70"/></clipPath>
<rect x="470.10" y="424.00" width="64.40" height="9.40" rx="4.70" fill="#f3f3f9"/>
<rect clip-path="url(#c36)" x="470.10" y="424.00" width="64.40" height="9.40" fill="#3cb043"/>
<clipPath id="c37"><rect x="470.10" y="437.00" width="64.40" height="9.40" rx="4.70"/></clipPath>
<rect x="470.10" y="437.00" width="64.40" height="9.40" rx="4.70" fill="#f3f3f9"/>
<rect clip-path="url(#c37)" x="470.10" y="437.00" width="64.40" height="9.40" fill="#fa9a48"/>
<clipPath id="c38"><rect x="470.10" y="450.00" width="64.40" height="9.40" rx="4.70"/></clipPath>
<rect x="470.10" y="450.00" width="64.40" height="9.40" rx="4.70" fill="#f3f3f9"/>
<rect clip-path="url(#c38)" x="470.10" y="450.00" width="64.40" height="9.40" fill="#e04377"/>
<filter id="sh" x="-20%" y="-20%" width="140%" height="150%"><feDropShadow dx="0" dy="1.5" stdDeviation="1.2" flood-color="#000" flood-opacity="0.28"/></filter>
<rect x="313.5" y="393.5" width="149" height="82" rx="3" fill="#ffffff" stroke="#d6d6d6" stroke-width="1" filter="url(#sh)"/>
<text x="388.1" y="411.1" font-size="13" text-anchor="middle" textLength="57.2" lengthAdjust="spacingAndGlyphs"><tspan fill="#777777">Base </tspan><tspan fill="#444444" stroke="#444444" stroke-width="0.45">1.33</tspan></text>
<text x="320.90" y="429.60" font-size="11.2" fill="#383838" textLength="25.49" lengthAdjust="spacingAndGlyphs" stroke="#383838" stroke-width="0.22">Z1+2</text>
<clipPath id="c39"><rect x="353.90" y="419.90" width="64.20" height="12.60" rx="6.30"/></clipPath>
<rect x="353.90" y="419.90" width="64.20" height="12.60" rx="6.30" fill="#f3f3f9"/>
<rect clip-path="url(#c39)" x="353.90" y="419.90" width="64.20" height="12.60" fill="#3cb043"/>
<text x="455.10" y="429.60" font-size="11.2" fill="#555555" text-anchor="end" textLength="29.82" lengthAdjust="spacingAndGlyphs" stroke="#555555" stroke-width="0.15">83.9%</text>
<text x="320.90" y="447.60" font-size="11.2" fill="#383838" textLength="25.49" lengthAdjust="spacingAndGlyphs" stroke="#383838" stroke-width="0.22">Z3+4</text>
<clipPath id="c40"><rect x="353.90" y="437.90" width="64.20" height="12.60" rx="6.30"/></clipPath>
<rect x="353.90" y="437.90" width="64.20" height="12.60" rx="6.30" fill="#f3f3f9"/>
<rect clip-path="url(#c40)" x="353.90" y="437.90" width="9.79" height="12.60" fill="#fa9a48"/>
<text x="455.10" y="447.60" font-size="11.2" fill="#555555" text-anchor="end" textLength="29.82" lengthAdjust="spacingAndGlyphs" stroke="#555555" stroke-width="0.15">12.8%</text>
<text x="320.90" y="465.60" font-size="11.2" fill="#383838" textLength="19.20" lengthAdjust="spacingAndGlyphs" stroke="#383838" stroke-width="0.22">Z5+</text>
<clipPath id="c41"><rect x="353.90" y="455.90" width="64.20" height="12.60" rx="6.30"/></clipPath>
<rect x="353.90" y="455.90" width="64.20" height="12.60" rx="6.30" fill="#f3f3f9"/>
<rect clip-path="url(#c41)" x="353.90" y="455.90" width="2.53" height="12.60" fill="#e04377"/>
<text x="455.10" y="465.60" font-size="11.2" fill="#555555" text-anchor="end" textLength="23.53" lengthAdjust="spacingAndGlyphs" stroke="#555555" stroke-width="0.15">3.3%</text>
</svg>
</body></html>
